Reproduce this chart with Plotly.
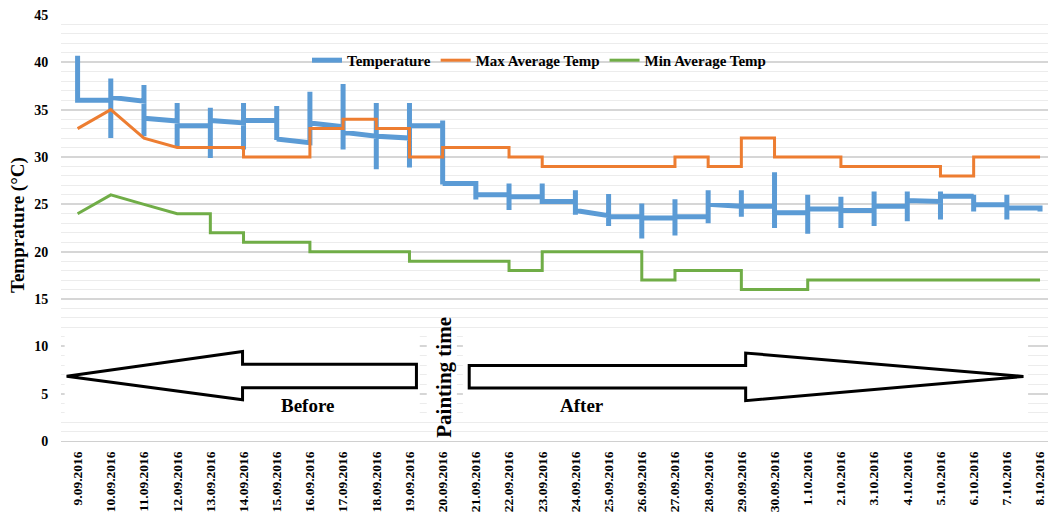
import plotly.graph_objects as go

# Day categories on the x axis
dates = [
    "9.09.2016", "10.09.2016", "11.09.2016", "12.09.2016", "13.09.2016",
    "14.09.2016", "15.09.2016", "16.09.2016", "17.09.2016", "18.09.2016",
    "19.09.2016", "20.09.2016", "21.09.2016", "22.09.2016", "23.09.2016",
    "24.09.2016", "25.09.2016", "26.09.2016", "27.09.2016", "28.09.2016",
    "29.09.2016", "30.09.2016", "1.10.2016", "2.10.2016", "3.10.2016",
    "4.10.2016", "5.10.2016", "6.10.2016", "7.10.2016", "8.10.2016",
]

# Temperature per day: value arriving at the day, daily high, daily low, value leaving the day
temp_in = [None, 36.0, 35.9, 33.8, 33.3, 33.6, 33.85, 31.5, 33.2, 32.2,
           32.0, 33.3, 27.2, 26.0, 25.8, 25.3, 23.8, 23.7, 23.55, 23.7,
           24.8, 24.8, 24.1, 24.5, 24.35, 24.8, 25.3, 25.85, 24.95, 24.6]
temp_high = [40.7, 38.3, 37.6, 35.7, 35.2, 35.7, 35.4, 36.9, 37.7, 35.7,
             35.7, 33.85, 27.2, 27.2, 27.2, 26.5, 26.1, 25.1, 25.55, 26.5,
             26.5, 28.4, 26.0, 25.8, 26.35, 26.35, 26.35, 26.0, 26.0, 24.6]
temp_low = [36.0, 32.0, 32.2, 31.1, 29.9, 30.8, 31.8, 31.5, 30.8, 28.7,
            28.9, 27.1, 25.5, 24.4, 25.3, 23.9, 22.7, 21.4, 21.7, 23.0,
            23.7, 22.5, 21.9, 22.5, 22.7, 23.2, 23.4, 24.25, 23.4, 24.25]
temp_out = [36.0, 36.3, 34.1, 33.3, 33.85, 33.85, 31.9, 33.6, 32.6, 32.2,
            33.3, 27.2, 26.0, 25.8, 25.3, 24.35, 23.7, 23.55, 23.7, 25.0,
            24.8, 24.1, 24.5, 24.35, 24.8, 25.4, 25.85, 24.95, 24.6, None]

# Max average temperature (line vertices)
max_days = ["9.09.2016", "10.09.2016", "11.09.2016", "12.09.2016", "14.09.2016",
            "14.09.2016", "16.09.2016", "16.09.2016", "17.09.2016", "17.09.2016",
            "18.09.2016", "18.09.2016", "19.09.2016", "19.09.2016", "20.09.2016",
            "20.09.2016", "22.09.2016", "22.09.2016", "23.09.2016", "23.09.2016",
            "27.09.2016", "27.09.2016", "28.09.2016", "28.09.2016", "29.09.2016",
            "29.09.2016", "30.09.2016", "30.09.2016", "2.10.2016", "2.10.2016",
            "5.10.2016", "5.10.2016", "6.10.2016", "6.10.2016", "8.10.2016"]
max_vals = [33, 35, 32, 31, 31,
            30, 30, 33, 33, 34,
            34, 33, 33, 30, 30,
            31, 31, 30, 30, 29,
            29, 30, 30, 29, 29,
            32, 32, 30, 30, 29,
            29, 28, 28, 30, 30]

# Min average temperature (line vertices)
min_days = ["9.09.2016", "10.09.2016", "11.09.2016", "12.09.2016", "13.09.2016",
            "13.09.2016", "14.09.2016", "14.09.2016", "16.09.2016", "16.09.2016",
            "19.09.2016", "19.09.2016", "22.09.2016", "22.09.2016", "23.09.2016",
            "23.09.2016", "26.09.2016", "26.09.2016", "27.09.2016", "27.09.2016",
            "29.09.2016", "29.09.2016", "1.10.2016", "1.10.2016", "8.10.2016"]
min_vals = [24, 26, 25, 24, 24,
            22, 22, 21, 21, 20,
            20, 19, 19, 18, 18,
            20, 20, 17, 17, 18,
            18, 16, 16, 17, 17]

# Build the temperature path: each day drawn as a vertical range, joined day to day
temp_x, temp_y = [], []
for i, d in enumerate(dates):
    for v in (temp_in[i], temp_high[i], temp_low[i], temp_out[i]):
        if v is not None:
            temp_x.append(d)
            temp_y.append(v)

SERIF = "Liberation Serif"

fig = go.Figure()
fig.add_trace(go.Scatter(x=temp_x, y=temp_y, mode="lines", name="Temperature",
                         line=dict(color="#5B9BD5", width=5)))
fig.add_trace(go.Scatter(x=max_days, y=max_vals, mode="lines", name="Max Average Temp",
                         line=dict(color="#ED7D31", width=3)))
fig.add_trace(go.Scatter(x=min_days, y=min_vals, mode="lines", name="Min Average Temp",
                         line=dict(color="#70AD47", width=3)))

# White panels behind the before/after arrows and the painting-time label
panels = [(-0.39, 10.31), (10.52, 11.43), (11.61, 28.64)]
shapes = []
for x0, x1 in panels:
    shapes.append(dict(type="rect", xref="x", yref="y", x0=x0, x1=x1, y0=2.5, y1=11.5,
                       fillcolor="white", line=dict(width=0), layer="above"))

# Block arrows (x in category index units, y in axis units)
left_arrow = [(-0.33, 6.84), (4.97, 9.46), (4.97, 8.11), (10.21, 8.11),
              (10.21, 5.63), (4.97, 5.63), (4.97, 4.36)]
right_arrow = [(28.5, 6.82), (20.13, 9.29), (20.13, 7.97), (11.8, 7.97),
               (11.8, 5.6), (20.13, 5.6), (20.13, 4.26)]
for pts in (left_arrow, right_arrow):
    path = "M " + " L ".join(f"{x},{y}" for x, y in pts) + " Z"
    shapes.append(dict(type="path", xref="x", yref="y", path=path,
                       fillcolor="white", line=dict(color="black", width=3), layer="above"))

L, R, T, B, W, H = 61, 0, 15, 73, 1048, 514

annotations = [
    dict(text="Before", x=6.92, y=3.75, xref="x", yref="y", showarrow=False,
         font=dict(family=SERIF, size=19, color="black", weight="bold")),
    dict(text="After", x=15.19, y=3.75, xref="x", yref="y", showarrow=False,
         font=dict(family=SERIF, size=19, color="black", weight="bold")),
    dict(text="Painting time", x=11.03, y=6.75, xref="x", yref="y", showarrow=False,
         textangle=-90, font=dict(family=SERIF, size=21, color="black", weight="bold")),
    # y-axis title, positioned in pixels converted to paper coordinates
    dict(text="Temprature (°C)", x=(18 - L) / (W - L - R), y=(H - B - 225) / (H - T - B),
         xref="paper", yref="paper", xanchor="center", yanchor="middle",
         showarrow=False, textangle=-90,
         font=dict(family=SERIF, size=19, color="black", weight="bold")),
]

fig.update_layout(
    width=W, height=H,
    margin=dict(l=L, r=R, t=T, b=B, autoexpand=False),
    paper_bgcolor="white", plot_bgcolor="white",
    showlegend=True,
    legend=dict(orientation="h", x=(307 - L) / (W - L - R), y=40.2 / 45,
                xanchor="left", yanchor="middle", bgcolor="rgba(0,0,0,0)",
                font=dict(family=SERIF, size=15, color="black", weight="bold"),
                itemwidth=30),
    shapes=shapes,
    annotations=annotations,
)
fig.update_xaxes(
    type="category", categoryorder="array", categoryarray=dates,
    range=[-0.5, 29.24], showgrid=False, zeroline=False, automargin=False,
    showline=True, linecolor="#d0d0d0", linewidth=1,
    tickangle=-90, ticks="outside", ticklen=4, tickcolor="rgba(0,0,0,0)",
    tickfont=dict(family=SERIF, size=13.5, color="black", weight="bold"),
)
fig.update_yaxes(
    range=[0, 45], dtick=5, tick0=0, showgrid=True, gridcolor="#d6d6d6", gridwidth=1.5,
    zeroline=False, showline=False, automargin=False,
    ticks="outside", ticklen=9, tickcolor="rgba(0,0,0,0)",
    tickfont=dict(family=SERIF, size=14, color="black", weight="bold"),
    minor=dict(dtick=1, showgrid=True, gridcolor="#ececec", gridwidth=1),
)

fig.write_html("out.html")
